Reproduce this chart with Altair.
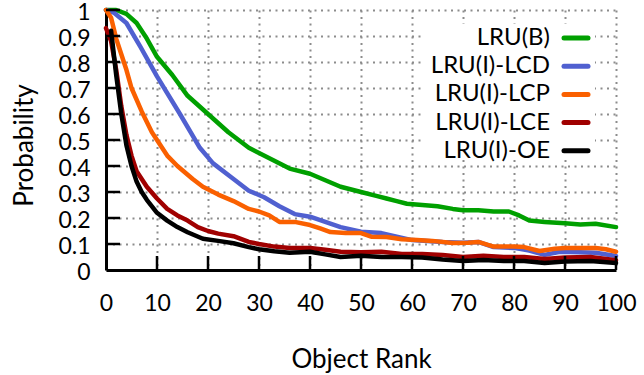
import altair as alt
import pandas as pd

# Series names and colours, in drawing order
names = ["LRU(B)", "LRU(I)-LCD", "LRU(I)-LCP", "LRU(I)-LCE", "LRU(I)-OE"]
colors = ["#00a000", "#5060d0", "#fa6000", "#a00000", "#000000"]

# LRU(B)
b_x = [0, 2, 4, 6, 8, 10, 13, 16, 20, 24, 28, 30, 33, 36, 40, 43, 46, 50, 53, 55, 57,
       59, 62, 65, 68, 70, 73, 76, 79, 81, 83, 86, 90, 93, 96, 100]
b_y = [1.0, 1.0, 0.985, 0.95, 0.89, 0.82, 0.75, 0.67, 0.60, 0.53, 0.47, 0.45, 0.42, 0.39,
       0.37, 0.345, 0.32, 0.30, 0.285, 0.275, 0.265, 0.255, 0.25, 0.245, 0.235, 0.23, 0.23,
       0.225, 0.225, 0.21, 0.19, 0.185, 0.18, 0.175, 0.178, 0.165]

# LRU(I)-LCD
lcd_x = [0, 1.5, 4, 6.7, 10, 14.5, 18.4, 21, 25, 28, 31, 34, 37, 40, 43, 46, 50, 54, 57,
         60, 63, 66, 70, 73, 76, 80, 83, 86, 89, 93, 96, 100]
lcd_y = [1.0, 0.99, 0.95, 0.86, 0.745, 0.60, 0.47, 0.41, 0.35, 0.305, 0.28, 0.245, 0.215,
         0.205, 0.185, 0.165, 0.147, 0.142, 0.128, 0.115, 0.112, 0.108, 0.105, 0.108, 0.088,
         0.085, 0.075, 0.058, 0.07, 0.068, 0.066, 0.054]

# LRU(I)-LCP
lcp_x = [0, 1, 2, 3, 4, 5, 7, 9, 10, 12, 14, 17, 19, 22, 25, 28, 30, 32, 34, 37, 40, 42,
         44, 47, 50, 52, 55, 58, 61, 64, 68, 71, 73, 76, 80, 82, 85, 88, 90, 96, 98, 100]
lcp_y = [1.0, 0.97, 0.89, 0.83, 0.77, 0.70, 0.61, 0.53, 0.50, 0.44, 0.40, 0.35, 0.32, 0.29,
         0.265, 0.235, 0.225, 0.21, 0.185, 0.185, 0.173, 0.16, 0.146, 0.142, 0.142, 0.128,
         0.127, 0.118, 0.115, 0.112, 0.104, 0.105, 0.108, 0.09, 0.09, 0.088, 0.073, 0.082,
         0.085, 0.085, 0.08, 0.07]

# LRU(I)-LCE
lce_x = [0, 1, 2, 3, 4, 5, 6, 7, 8, 10, 12, 14, 16, 18, 20, 22, 25, 28, 30, 33, 36, 40,
         43, 46, 50, 54, 58, 62, 66, 70, 74, 78, 82, 86, 90, 95, 100]
lce_y = [0.93, 0.88, 0.77, 0.63, 0.52, 0.44, 0.38, 0.35, 0.32, 0.275, 0.235, 0.21, 0.19,
         0.165, 0.15, 0.14, 0.13, 0.108, 0.10, 0.09, 0.085, 0.085, 0.078, 0.07, 0.068, 0.07,
         0.062, 0.062, 0.058, 0.05, 0.055, 0.05, 0.05, 0.042, 0.048, 0.05, 0.038]

# LRU(I)-OE
oe_x = [1, 2, 3, 4, 5, 6, 7, 8, 10, 12, 14, 16, 19, 22, 25, 28, 30, 33, 36, 40, 43, 46,
        50, 54, 58, 62, 66, 70, 74, 78, 82, 86, 90, 95, 100]
oe_y = [0.92, 0.75, 0.60, 0.48, 0.40, 0.34, 0.30, 0.27, 0.22, 0.19, 0.165, 0.145, 0.12,
        0.112, 0.103, 0.088, 0.08, 0.072, 0.066, 0.07, 0.06, 0.05, 0.055, 0.05, 0.05, 0.048,
        0.04, 0.035, 0.038, 0.035, 0.035, 0.027, 0.033, 0.035, 0.027]

series_x = [b_x, lcd_x, lcp_x, lce_x, oe_x]
series_y = [b_y, lcd_y, lcp_y, lce_y, oe_y]

x_ticks = [0, 10, 20, 30, 40, 50, 60, 70, 80, 90, 100]
y_ticks = [0, 0.1, 0.2, 0.3, 0.4, 0.5, 0.6, 0.7, 0.8, 0.9, 1]

FONT = "Lato"
W, H = 510, 260

x_scale = alt.Scale(domain=[0, 100], nice=False, zero=False)
y_scale = alt.Scale(domain=[0, 1], nice=False, zero=False)

x_axis = alt.Axis(values=x_ticks, title="Object Rank", ticks=False, labelPadding=22,
                  labelOverlap=False, labelBound=False, labelFlush=False,
                  titleX=W / 2, titleY=97, titleBaseline="alphabetic", titleAlign="center")
y_axis = alt.Axis(values=y_ticks, format="~g", title="Probability", ticks=False,
                  labelPadding=16, labelOffset=2, labelOverlap=False, labelBound=False,
                  labelFlush=False, titleX=-82, titleY=135, titleAngle=-90,
                  titleBaseline="middle", titleAlign="center")

# Opaque backdrop behind the key
key_bg = alt.Chart(pd.DataFrame({"k": [0]})).mark_rect(color="white").encode(
    x=alt.value(316), x2=alt.value(489), y=alt.value(14), y2=alt.value(150)
)

layers = []
for name, col, xs, ys in zip(names, colors, series_x, series_y):
    df = pd.DataFrame({"rank": xs, "prob": ys})
    layers.append(
        alt.Chart(df).mark_line(color=col, strokeWidth=4.5, strokeJoin="round",
                                strokeCap="round").encode(
            x=alt.X("rank:Q", scale=x_scale, axis=x_axis),
            y=alt.Y("prob:Q", scale=y_scale, axis=y_axis))
    )

# Inward tick marks
xt = alt.Chart(pd.DataFrame({"rank": x_ticks[1:]})).mark_rule(color="black", strokeWidth=2.5).encode(
    x=alt.X("rank:Q", scale=x_scale, axis=x_axis), y=alt.value(H), y2=alt.value(H - 14)
)
yt = alt.Chart(pd.DataFrame({"prob": y_ticks[1:]})).mark_rule(color="black", strokeWidth=2.5).encode(
    y=alt.Y("prob:Q", scale=y_scale, axis=y_axis), x=alt.value(0), x2=alt.value(14)
)

# Key: labels right-aligned, followed by a line sample
key = []
for i, (name, col) in enumerate(zip(names, colors)):
    ky = 28 + i * 28.2
    d = pd.DataFrame({"name": [name]})
    key.append(alt.Chart(d).mark_text(align="right", baseline="middle", font=FONT,
                                      fontSize=24, color="black").encode(
        text="name:N", x=alt.value(444), y=alt.value(ky)))
    key.append(alt.Chart(d).mark_rule(color=col, strokeWidth=5, strokeCap="round").encode(
        x=alt.value(458), x2=alt.value(482), y=alt.value(ky)))

chart = alt.layer(key_bg, *layers, xt, yt, *key).properties(
    width=W, height=H,
    autosize=alt.AutoSizeParams(type="none"),
    padding={"left": 106, "top": 10, "right": 28, "bottom": 105},
).configure_view(stroke=None).configure_axis(
    domainColor="black", domainWidth=3,
    grid=True, gridColor="#8c8c8c", gridWidth=2, gridDash=[2, 4.5],
    labelFont=FONT, labelFontSize=23, labelColor="black",
    titleFont=FONT, titleFontSize=26, titleFontWeight="normal", titleColor="black",
)

chart.save("out.html", embed_options={"renderer": "svg", "actions": False})
